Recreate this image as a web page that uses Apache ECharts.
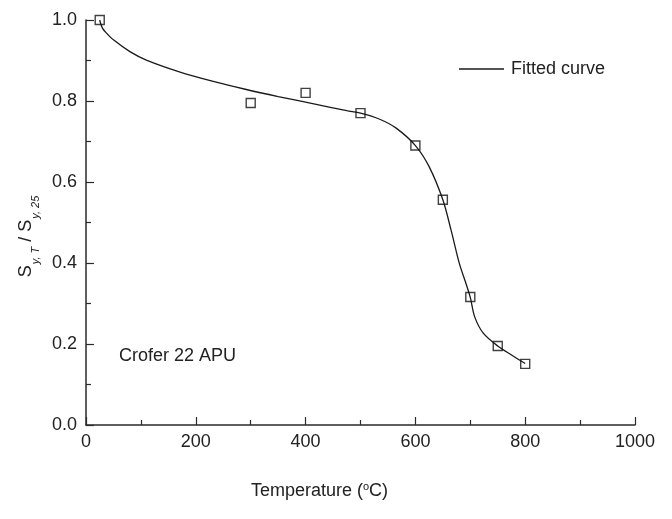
<!DOCTYPE html>
<html>
<head>
<meta charset="utf-8">
<script src="https://cdn.jsdelivr.net/npm/echarts@6/dist/echarts.min.js"></script>
<style>html,body{margin:0;padding:0;background:#fff}#c{width:672px;height:519px}</style>
</head>
<body>
<div id="c"></div>
<script>
var tempMeasured = [25, 300, 400, 500, 600, 650, 700, 750, 800];
var ratioMeasured = [1.0, 0.795, 0.82, 0.77, 0.69, 0.556, 0.316, 0.195, 0.151];
var fitTemp = [25, 27, 30, 35, 50, 80, 110, 170, 230, 290, 350, 415, 475, 500, 535, 565, 600, 625, 650, 665, 680, 692, 700, 708, 724, 750, 775, 800];
var fitRatio = [1.0, 0.99, 0.98, 0.971, 0.951, 0.922, 0.901, 0.872, 0.849, 0.829, 0.811, 0.793, 0.776, 0.770, 0.755, 0.733, 0.69, 0.638, 0.556, 0.481, 0.399, 0.35, 0.315, 0.267, 0.226, 0.195, 0.173, 0.152];
var xTicks = [0, 200, 400, 600, 800, 1000];
var yTicks = [0, 0.2, 0.4, 0.6, 0.8, 1.0];
var legendLabel = 'Fitted curve';
var alloyLabel = 'Crofer 22 APU';

var font = 'Liberation Sans, Arial, sans-serif';
var chart = echarts.init(document.getElementById('c'), null, {renderer: 'canvas'});
var axisCommon = {
  axisLine: {show: true, lineStyle: {color: '#2a2a2a', width: 1.5}},
  axisTick: {show: true, inside: true, length: 8, lineStyle: {color: '#2a2a2a', width: 1.2}},
  minorTick: {show: true, splitNumber: 2, length: 5, lineStyle: {color: '#2a2a2a', width: 1.2}},
  splitLine: {show: false},
  axisLabel: {color: '#222', fontSize: 18, fontFamily: font}
};
chart.setOption({
  animation: false,
  backgroundColor: '#fff',
  grid: {left: 86, right: 37, top: 20, bottom: 94, containLabel: false},
  legend: {
    data: [{name: legendLabel, icon: 'rect'}], left: 454, top: 55, itemWidth: 45, itemHeight: 1.3, itemGap: 8,
    textStyle: {fontSize: 18, color: '#222', fontFamily: font, padding: [0, 0, 0, 2]}
  },
  xAxis: Object.assign({}, axisCommon, {
    type: 'value', min: xTicks[0], max: xTicks[xTicks.length - 1], interval: 200,
    axisLabel: Object.assign({}, axisCommon.axisLabel, {margin: 8, formatter: function (v) { return String(v); }}),
    name: 'Temperature ({sup|o}C)', nameLocation: 'middle', nameGap: 56,
    nameTextStyle: {fontSize: 18, color: '#222', fontFamily: font, padding: [0, 82, 0, 0],
      rich: {sup: {fontSize: 11, verticalAlign: 'top', padding: [0, 0, 10, 0], fontFamily: font, color: '#222'}}}
  }),
  yAxis: Object.assign({}, axisCommon, {
    type: 'value', min: yTicks[0], max: yTicks[yTicks.length - 1], interval: 0.2,
    axisLabel: Object.assign({}, axisCommon.axisLabel, {margin: 9, formatter: function (v) { return v.toFixed(1); }}),
    name: '{s|S}{sub|y, T}{s| / S}{sub|y, 25}', nameLocation: 'middle', nameGap: 41,
    nameTextStyle: {fontSize: 18, color: '#222', fontFamily: font, padding: [0, 28, 0, 0],
      rich: {
        s: {fontSize: 18, fontFamily: font, color: '#222', lineHeight: 26, verticalAlign: 'bottom', padding: [0, 1, 6, 0]},
        sub: {fontSize: 11, fontFamily: font, fontStyle: 'italic', color: '#222', lineHeight: 26, verticalAlign: 'bottom'}
      }}
  }),
  graphic: [{
    type: 'text', left: 119, top: 347,
    style: {text: alloyLabel, fontSize: 18, fill: '#222', fontFamily: font}
  }],
  series: [{
    name: legendLabel, type: 'line', data: fitTemp.map(function (t, i) { return [t, fitRatio[i]]; }),
    smooth: 0.3, symbol: 'none', lineStyle: {color: '#1a1a1a', width: 1.3}, itemStyle: {color: '#1a1a1a'}, z: 2
  }, {
    name: 'Measured', type: 'scatter', data: tempMeasured.map(function (t, i) { return [t, ratioMeasured[i]]; }),
    symbol: 'rect', symbolSize: 9,
    itemStyle: {color: 'rgba(255,255,255,0)', borderColor: '#111', borderWidth: 1.4}, z: 3
  }]
});
</script>
</body>
</html>
